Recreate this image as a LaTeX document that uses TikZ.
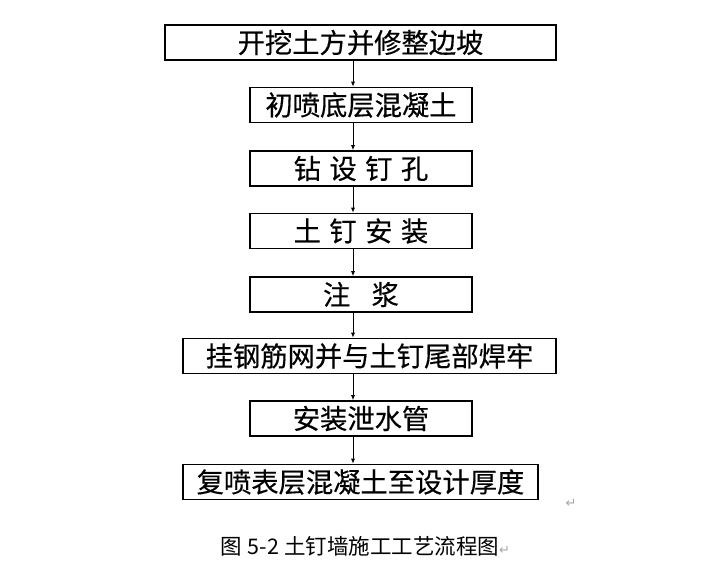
\documentclass[tikz,border=0pt]{standalone}
\usepackage{fontspec}
\newfontfamily\cjk[FakeBold=0.35]{Noto Sans CJK SC}
\newfontfamily\capfont{Noto Sans CJK SC}
\newfontfamily\symfont{DejaVu Sans}
\usetikzlibrary{arrows.meta}
\tikzset{
  stepbox/.style={draw, line width=1.6pt, inner sep=0pt, minimum width=222pt,
    minimum height=35pt, font=\cjk\fontsize{27.3}{27.3}\selectfont},
  flowarr/.style={line width=0.8pt, -{Latex[length=5pt,width=4pt]}},
}
\newcommand{\gapa}{\hspace{0.31em}}
\newcommand{\gapb}{\hspace{0.78em}}
\begin{document}
\begin{tikzpicture}[x=1pt,y=-1pt]
  \useasboundingbox (0,0) rectangle (707,566);
  \draw
    (360.5,42.5) node[stepbox,minimum width=391pt] (s1){开挖土方并修整边坡}
    (361,105) node[stepbox] (s2){初喷底层混凝土}
    (361,168.5) node[stepbox] (s3){钻\gapa 设\gapa 钉\gapa 孔}
    (361,231) node[stepbox] (s4){土\gapa 钉\gapa 安\gapa 装}
    (361,294.5) node[stepbox] (s5){注\gapb 浆}
    (369.5,356) node[stepbox,minimum width=373pt] (s6){挂钢筋网并与土钉尾部焊牢}
    (361,418.5) node[stepbox] (s7){安装泄水管}
    (360.5,482) node[stepbox,minimum width=355pt] (s8){复喷表层混凝土至设计厚度};
  \coordinate (ax) at (353,0);
  \begin{scope}[flowarr]
    \draw (s1.south -| ax) to (s2.north -| ax);
    \draw (s2.south -| ax) to (s3.north -| ax);
    \draw (s3.south -| ax) to (s4.north -| ax);
    \draw (s4.south -| ax) to (s5.north -| ax);
    \draw (s5.south -| ax) to (s6.north -| ax);
    \draw (s6.south -| ax) to (s7.north -| ax);
    \draw (s7.south -| ax) to (s8.north -| ax);
  \end{scope}
  \node[gray!70, font=\symfont\fontsize{13}{13}\selectfont] (ret) at (571,503) {↵};
  \node[anchor=west, inner sep=0pt, font=\capfont\fontsize{21.5}{21.5}\selectfont] (cap) at (220,546)
    {图\hspace{6pt}\makebox[26pt][s]{5\hfil-\hfil 2}\hspace{10.5pt}土钉墙施工工艺流程图{\symfont\color{gray!70}\fontsize{13}{13}\selectfont↵}};
\end{tikzpicture}
\end{document}
